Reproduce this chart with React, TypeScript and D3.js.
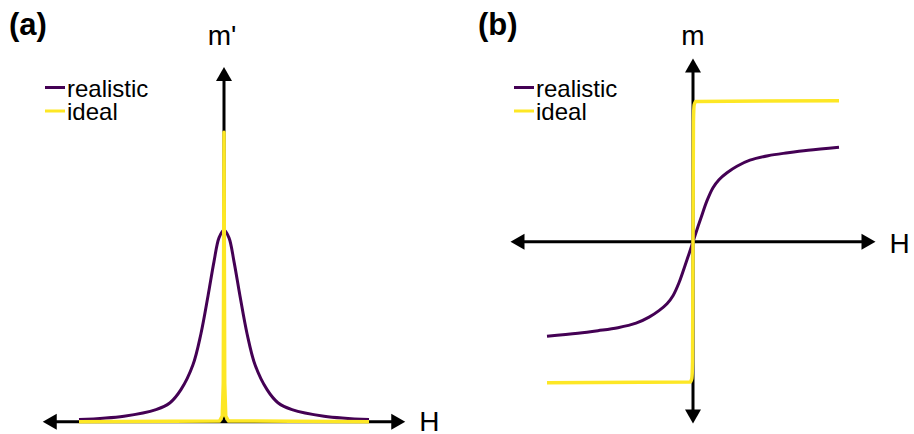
import React from "react";
import * as d3 from "d3";

// Panel (a): derivative m' vs H
const H_A_REAL = [-1, -0.69, -0.469, -0.372, -0.297, -0.214, -0.159, -0.11, -0.069, -0.034, 0, 0.034, 0.069, 0.11, 0.159, 0.214, 0.297, 0.372, 0.469, 0.69, 1];
const MP_A_REAL = [0.011, 0.029, 0.063, 0.099, 0.167, 0.297, 0.459, 0.657, 0.835, 0.96, 1, 0.96, 0.835, 0.657, 0.459, 0.297, 0.167, 0.099, 0.063, 0.029, 0.011];
const H_A_IDEAL = [-1, -0.03, -0.012, -0.005, 0, 0.005, 0.012, 0.03, 1];
const MP_A_IDEAL = [0, 0.004, 0.03, 0.2, 1.51, 0.2, 0.03, 0.004, 0];

// Panel (b): magnetisation m vs H
const H_B_REAL = [-1, -0.788, -0.651, -0.514, -0.39, -0.301, -0.233, -0.178, -0.137, -0.096, -0.055, -0.027, 0, 0.027, 0.055, 0.096, 0.137, 0.178, 0.233, 0.301, 0.39, 0.514, 0.651, 0.788, 1];
const M_B_REAL = [-0.67, -0.649, -0.631, -0.61, -0.578, -0.535, -0.489, -0.44, -0.383, -0.291, -0.17, -0.085, 0, 0.085, 0.17, 0.291, 0.383, 0.44, 0.489, 0.535, 0.578, 0.61, 0.631, 0.649, 0.67];
const H_B_IDEAL = [-1, -0.02, -0.008, -0.003, 0, 0.003, 0.008, 0.02, 1];
const M_B_IDEAL = [-1, -0.995, -0.97, -0.85, 0, 0.85, 0.97, 0.995, 1];

const SERIES = ["realistic", "ideal"];
const COLORS = ["#440154", "#fde725"];

const FONT = "'Liberation Sans', Arial, Helvetica, sans-serif";

function Arrow({ x1, y1, x2, y2 }: { x1: number; y1: number; x2: number; y2: number }) {
  const dx = x2 - x1, dy = y2 - y1;
  const len = Math.hypot(dx, dy);
  const ux = dx / len, uy = dy / len;
  const hl = 14, hw = 8;
  const bx = x2 - ux * hl, by = y2 - uy * hl;
  const px = -uy, py = ux;
  return (
    <g>
      <line x1={x1} y1={y1} x2={bx + ux * 1} y2={by + uy * 1} stroke="#000" strokeWidth={3} />
      <path d={`M${x2},${y2}L${bx + px * hw},${by + py * hw}L${bx - px * hw},${by - py * hw}Z`} fill="#000" />
    </g>
  );
}

function Legend({ x, y }: { x: number; y: number }) {
  return (
    <g>
      {SERIES.map((s, i) => (
        <g key={s} transform={`translate(${x},${y + i * 23.5})`}>
          <line x1={0} x2={20} y1={0} y2={0} stroke={COLORS[i]} strokeWidth={3} />
          <text x={22} y={9} fontSize={24} fontFamily={FONT} fill="#000">{s}</text>
        </g>
      ))}
    </g>
  );
}

export default function App() {
  // Panel (a)
  const xA = d3.scaleLinear().domain([-1, 1]).range([79, 369]);
  const yA = d3.scaleLinear().domain([0, 1]).range([421.7, 230]);
  const lineA = d3.line<[number, number]>().x((d) => xA(d[0])).y((d) => yA(d[1])).curve(d3.curveCatmullRom.alpha(0.5));
  const lineAIdeal = d3.line<[number, number]>().x((d) => xA(d[0])).y((d) => yA(d[1])).curve(d3.curveLinear);
  const aReal = H_A_REAL.map((h, i) => [h, MP_A_REAL[i]] as [number, number]);
  const aIdeal = H_A_IDEAL.map((h, i) => [h, MP_A_IDEAL[i]] as [number, number]);

  // Panel (b)
  const xB = d3.scaleLinear().domain([-1, 1]).range([547, 839]);
  const yB = d3.scaleLinear().domain([-1, 1]).range([382.7, 100.7]);
  const lineB = d3.line<[number, number]>().x((d) => xB(d[0])).y((d) => yB(d[1])).curve(d3.curveCatmullRom.alpha(0.5));
  const lineBIdeal = d3.line<[number, number]>().x((d) => xB(d[0])).y((d) => yB(d[1])).curve(d3.curveMonotoneX);
  const bReal = H_B_REAL.map((h, i) => [h, M_B_REAL[i]] as [number, number]);
  const bIdeal = H_B_IDEAL.map((h, i) => [h, M_B_IDEAL[i]] as [number, number]);

  return (
    <svg width={914} height={434} style={{ position: "absolute", left: 0, top: 0, display: "block", background: "#fff" }}>
      {/* Panel (a) */}
      <text x={9} y={35} fontSize={31} fontWeight="bold" fontFamily={FONT}>(a)</text>
      <Arrow x1={xA(0)} y1={yA(0)} x2={xA(-1.25)} y2={yA(0)} />
      <Arrow x1={xA(0)} y1={yA(0)} x2={xA(1.25)} y2={yA(0)} />
      <Arrow x1={xA(0)} y1={yA(0)} x2={xA(0)} y2={yA(1.85)} />
      <text x={xA(1.25) + 14} y={431} fontSize={28} fontFamily={FONT}>H</text>
      <text x={xA(0) - 2} y={45} fontSize={28} fontFamily={FONT} textAnchor="middle">m'</text>
      <path d={lineA(aReal) || ""} fill="none" stroke={COLORS[0]} strokeWidth={3} />
      <path d={lineAIdeal(aIdeal) || ""} fill="none" stroke={COLORS[1]} strokeWidth={3.5} strokeLinejoin="round" />
      <Legend x={45} y={87.5} />

      {/* Panel (b) */}
      <text x={478} y={35} fontSize={31} fontWeight="bold" fontFamily={FONT}>(b)</text>
      <Arrow x1={xB(0)} y1={yB(0)} x2={xB(-1.25)} y2={yB(0)} />
      <Arrow x1={xB(0)} y1={yB(0)} x2={xB(1.25)} y2={yB(0)} />
      <Arrow x1={xB(0)} y1={yB(0)} x2={xB(0)} y2={yB(1.3)} />
      <Arrow x1={xB(0)} y1={yB(0)} x2={xB(0)} y2={yB(-1.29)} />
      <text x={xB(1.25) + 14} y={253} fontSize={28} fontFamily={FONT}>H</text>
      <text x={xB(0)} y={45} fontSize={28} fontFamily={FONT} textAnchor="middle">m</text>
      <path d={lineB(bReal) || ""} fill="none" stroke={COLORS[0]} strokeWidth={3} />
      <path d={lineBIdeal(bIdeal) || ""} fill="none" stroke={COLORS[1]} strokeWidth={3.5} />
      <Legend x={514} y={87.5} />
    </svg>
  );
}
